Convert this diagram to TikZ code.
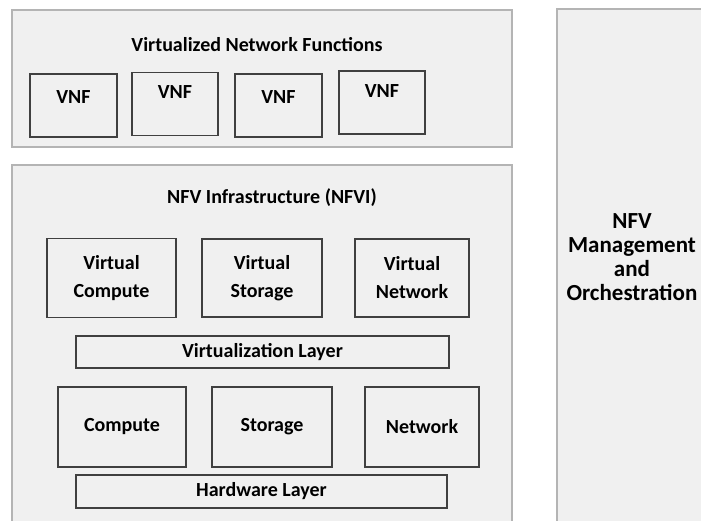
\documentclass[tikz,border=0pt]{standalone}
\usepackage{fontspec}
\setmainfont{Carlito}
\usetikzlibrary{positioning}
\definecolor{panelgray}{HTML}{F0F0F0}
\definecolor{panelline}{HTML}{B4B4B4}
\definecolor{boxline}{HTML}{404040}
\tikzset{panel/.style={fill=panelgray, draw=panelline, line width=1.2pt},
         blk/.style={draw=boxline, fill=panelgray, line width=1.6pt,
         inner sep=0pt, align=center, font=\fontsize{20}{28}\selectfont\bfseries},
         ttl/.style={inner sep=0pt, font=\fontsize{20}{23}\selectfont\bfseries}}

\begin{document}
\begin{tikzpicture}[x=1pt, y=-1pt]
  \clip (0,0) rectangle (701,521);
  \fill[white] (0,0) rectangle (701,521);

  \draw[panel] (12,10) rectangle (512,147);
  \draw[panel] (12,165) rectangle (512,540);
  \draw[panel] (557,9) rectangle (720,540);

  \node[ttl] (vnftitle) at (257,45) {Virtualized Network Functions};
  % text sits a little high in the VNF boxes
  \foreach \n/\x/\y/\d in {1/73.5/105.5/17, 2/175/104/24, 3/278.5/105.5/17, 4/382/102.5/23}
    \node[blk, minimum width=86.5pt, minimum height=63pt, text depth=\d pt] (vnf\n) at (\x,\y) {VNF};

  \node[ttl] (nfvititle) at (272,198) {NFV Infrastructure (NFVI)};
  \node[blk, minimum width=129pt, minimum height=79pt] (vcompute) at (111.5,278) {Virtual\\Compute};
  \node[blk, minimum width=120pt, minimum height=78pt] (vstorage) at (262,278) {Virtual\\Storage};
  \node[blk, minimum width=114pt, minimum height=78pt] (vnetwork) at (412,278) {Virtual\\Network};
  \node[blk, minimum width=373pt, minimum height=32pt] (virtlayer) at (262.5,352) {Virtualization Layer};

  \node[blk, minimum width=128pt, minimum height=80pt] (compute) at (122,427) {Compute};
  \node[blk, minimum width=120pt, minimum height=80pt] (storage) at (272,427) {Storage};
  \node[blk, minimum width=114pt, minimum height=80pt] (network) at (422,427) {Network};
  \node[blk, minimum width=371pt, minimum height=33pt] (hwlayer) at (261.5,491.5) {Hardware Layer};

  \node[ttl, align=center, font=\fontsize{23}{24}\selectfont\bfseries] (mano) at (632,257)
    {NFV\\Management\\and\\Orchestration};
\end{tikzpicture}
\end{document}
